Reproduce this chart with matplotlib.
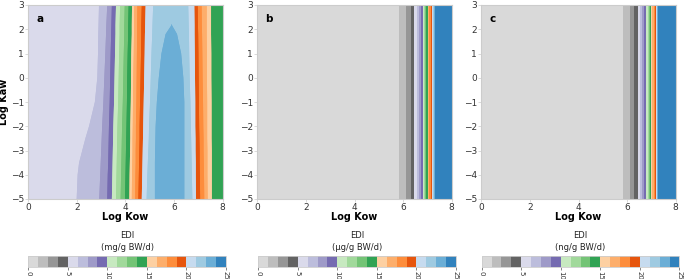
import numpy as np
import matplotlib
matplotlib.use("Agg")
import matplotlib.pyplot as plt

# EDI contour levels (20 classes, 0-25) and the tab20c_r palette
levels = np.linspace(0, 25, 21)
cbar_ticks = [0, 5, 10, 15, 20, 25]

# panel a: rows of Log Kaw, each row gives Log Kow where EDI crosses a level
kaw_a = [3, 2.15, 1.8, 1, 0, -1, -2, -2.5, -3, -3.5, -4, -5]
edi_a_cols = [5.6, 6.25, 7.5, 8.75, 10, 11.25, 12.5, 13.75, 15, 16.25, 17.5,
              18.75, 20, 21.25, 22.5, 23.0, 22.5, 21.25, 20, 18.75, 17.5,
              16.25, 15, 14.3]
edi_a_peak = [22.3, 22.52, 22.8, 23.0, 23.2, 23.3, 23.35, 23.35, 23.4, 23.4, 23.4, 23.4]
kow_a = [
    [0, 2.91, 3.25, 3.44, 3.61, 3.78, 3.97, 4.13, 4.27, 4.36, 4.49, 4.67, 4.83, 5.14, 5.70, 5.9, 6.10, 6.58, 6.83, 6.97, 7.13, 7.34, 7.52, 8],
    [0, 2.89, 3.21, 3.42, 3.59, 3.76, 3.95, 4.11, 4.26, 4.35, 4.48, 4.65, 4.81, 5.11, 5.88, 5.9, 5.92, 6.60, 6.84, 6.98, 7.14, 7.34, 7.52, 8],
    [0, 2.88, 3.20, 3.41, 3.59, 3.76, 3.95, 4.11, 4.26, 4.35, 4.48, 4.65, 4.80, 5.10, 5.65, 5.9, 6.12, 6.61, 6.84, 6.99, 7.15, 7.34, 7.52, 8],
    [0, 2.87, 3.17, 3.39, 3.57, 3.74, 3.93, 4.09, 4.24, 4.34, 4.47, 4.64, 4.79, 5.07, 5.48, 5.9, 6.29, 6.62, 6.85, 7.00, 7.16, 7.35, 7.53, 8],
    [0, 2.84, 3.13, 3.37, 3.55, 3.72, 3.91, 4.07, 4.23, 4.32, 4.46, 4.62, 4.77, 5.04, 5.37, 5.9, 6.38, 6.64, 6.86, 7.01, 7.17, 7.35, 7.53, 8],
    [0, 2.74, 3.09, 3.35, 3.53, 3.70, 3.89, 4.06, 4.22, 4.31, 4.45, 4.60, 4.75, 5.01, 5.29, 5.9, 6.42, 6.67, 6.87, 7.02, 7.19, 7.36, 7.54, 8],
    [0, 2.50, 3.04, 3.32, 3.50, 3.67, 3.86, 4.04, 4.20, 4.30, 4.43, 4.58, 4.73, 4.97, 5.24, 5.9, 6.42, 6.69, 6.87, 7.03, 7.20, 7.36, 7.54, 8],
    [0, 2.35, 3.02, 3.31, 3.49, 3.66, 3.85, 4.03, 4.20, 4.29, 4.43, 4.58, 4.72, 4.96, 5.23, 5.9, 6.42, 6.70, 6.88, 7.04, 7.21, 7.36, 7.54, 8],
    [0, 2.22, 3.00, 3.30, 3.48, 3.65, 3.84, 4.02, 4.19, 4.29, 4.42, 4.57, 4.71, 4.94, 5.22, 5.9, 6.42, 6.71, 6.88, 7.05, 7.21, 7.37, 7.55, 8],
    [0, 2.09, 2.98, 3.29, 3.47, 3.64, 3.83, 4.01, 4.18, 4.28, 4.42, 4.56, 4.70, 4.92, 5.21, 5.9, 6.42, 6.72, 6.89, 7.05, 7.22, 7.37, 7.55, 8],
    [0, 2.03, 2.96, 3.27, 3.46, 3.63, 3.82, 4.00, 4.17, 4.27, 4.41, 4.55, 4.69, 4.90, 5.21, 5.9, 6.42, 6.73, 6.89, 7.06, 7.23, 7.37, 7.55, 8],
    [0, 1.99, 2.92, 3.25, 3.44, 3.61, 3.80, 3.98, 4.16, 4.26, 4.40, 4.53, 4.67, 4.87, 5.21, 5.9, 6.42, 6.75, 6.90, 7.07, 7.24, 7.38, 7.55, 8],
]

# panels b and c: EDI depends on Log Kow only
edi_bc = [0.6, 1.25, 2.5, 3.75, 5, 6.25, 7.5, 8.75, 10, 11.25, 12.5, 13.75,
          15, 16.25, 17.5, 18.75, 20, 21.25, 22.5, 23.75, 24.5]
kow_b = [0, 5.84, 6.12, 6.31, 6.44, 6.57, 6.66, 6.73, 6.80, 6.85, 6.91, 6.96,
         7.02, 7.04, 7.08, 7.13, 7.18, 7.22, 7.26, 7.32, 8]
kow_c = [0, 5.84, 6.13, 6.29, 6.43, 6.53, 6.63, 6.70, 6.77, 6.84, 6.91, 6.95,
         7.00, 7.04, 7.09, 7.13, 7.18, 7.22, 7.25, 7.29, 8]
kaw_bc = [-5, 3]

units = ["(mg/g BW/d)", "(µg/g BW/d)", "(ng/g BW/d)"]
letters = ["a", "b", "c"]

# build grids
X_a = np.array(kow_a)
Y_a = np.repeat(np.array(kaw_a)[:, None], X_a.shape[1], axis=1)
Z_a = np.tile(edi_a_cols, (len(kaw_a), 1))
Z_a[:, 15] = edi_a_peak
Z_a[0, 14] = 22.2
Z_a[0, 16] = 22.2

grids = [(X_a, Y_a, Z_a)]
for kow in (kow_b, kow_c):
    X, Y = np.meshgrid(kow, kaw_bc)
    Z = np.tile(edi_bc, (len(kaw_bc), 1))
    grids.append((X, Y, Z))

# nodes sit exactly on the class limits, so nudge the limits off them
fill_levels = levels + 1e-3
fill_levels[0] = 0

fig = plt.figure(figsize=(6.85, 2.79), dpi=100)
cmap = plt.get_cmap("tab20c_r")
spine_col = "#cccccc"

ax_left = [28.3, 257.3, 481.3]
cb_left = [28.3, 258.3, 481.7]
W, H = 685, 279

for i, (X, Y, Z) in enumerate(grids):
    ax = fig.add_axes([ax_left[i] / W, (H - 199) / H, 194.4 / W, 194 / H])
    # drawn twice so antialiased edges leave no light seams
    ax.contourf(X, Y, Z, levels=fill_levels, cmap=cmap)
    cs = ax.contourf(X, Y, Z, levels=fill_levels, cmap=cmap, antialiased=True)
    ax.set_xlim(0, 8)
    ax.set_ylim(-5, 3)
    ax.set_xticks([0, 2, 4, 6, 8])
    ax.set_yticks(range(-5, 4))
    ax.tick_params(labelsize=6.5, length=2, width=0.5, color=spine_col,
                   labelcolor="#333333", pad=1)
    for s in ax.spines.values():
        s.set_color(spine_col)
        s.set_linewidth(0.8)
    ax.set_xlabel("Log Kow", fontsize=7, fontweight="bold", labelpad=0)
    if i == 0:
        ax.set_ylabel("Log Kaw", fontsize=7, fontweight="bold", labelpad=1)
    ax.text(0.04, 0.93, letters[i], transform=ax.transAxes, fontsize=7.5,
            fontweight="bold", va="center", ha="left")

    cax = fig.add_axes([cb_left[i] / W, (H - 266.7) / H, 197.7 / W, 10.7 / H])
    cb = fig.colorbar(cs, cax=cax, orientation="horizontal")
    cb.set_ticks(cbar_ticks)
    cb.set_ticklabels([str(t) for t in cbar_ticks])
    cb.outline.set_edgecolor(spine_col)
    cb.outline.set_linewidth(0.6)
    cax.tick_params(labelsize=5, length=2, width=0.5, color="#555555",
                    labelrotation=-90, pad=1, labelcolor="#333333")
    cax.set_title("EDI\n" + units[i], fontsize=6, pad=4, linespacing=1.5,
                  color="#222222")

fig.savefig("out.png", dpi=100)
